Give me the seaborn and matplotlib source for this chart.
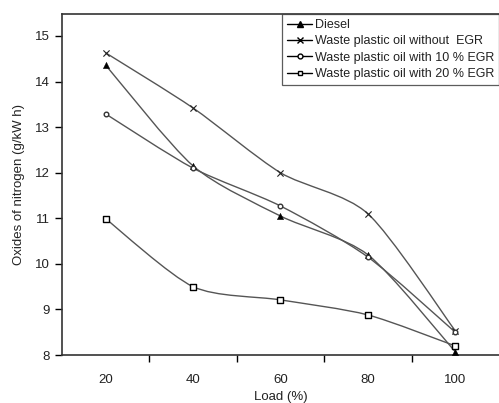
import numpy as np
import pandas as pd
import seaborn as sns
import matplotlib
matplotlib.use("Agg")
import matplotlib.pyplot as plt
from matplotlib.path import Path
from matplotlib.patches import PathPatch
from matplotlib.lines import Line2D

load = [20, 40, 60, 80, 100]
diesel = [14.36, 12.15, 11.05, 10.2, 8.07]
wpo_no_egr = [14.63, 13.42, 12.0, 11.1, 8.53]
wpo_10_egr = [13.29, 12.1, 11.27, 10.15, 8.5]
wpo_20_egr = [10.99, 9.5, 9.21, 8.88, 8.2]

names = ["Diesel", "Waste plastic oil without  EGR",
         "Waste plastic oil with 10 % EGR", "Waste plastic oil with 20 % EGR"]
series = [diesel, wpo_no_egr, wpo_10_egr, wpo_20_egr]
markers = ["^", "x", "o", "s"]

df = pd.DataFrame({
    "Load": load * 4,
    "NOx": sum(series, []),
    "Fuel": sum([[n] * len(load) for n in names], []),
})

sns.set_theme(style="white")
plt.rcParams["font.family"] = ["Liberation Sans", "DejaVu Sans"]

fig = plt.figure(figsize=(4.99, 4.03), dpi=100)
ax = fig.add_axes([0.1242, 0.119, 0.8758, 0.846])

line_col = "#555555"

def smooth_path(xs, ys, t=0.13):
    verts = [(xs[0], ys[0])]
    codes = [Path.MOVETO]
    n = len(xs)
    for i in range(n - 1):
        x0, y0 = xs[i], ys[i]
        x1, y1 = xs[i + 1], ys[i + 1]
        xp, yp = xs[max(i - 1, 0)], ys[max(i - 1, 0)]
        xn, yn = xs[min(i + 2, n - 1)], ys[min(i + 2, n - 1)]
        c1 = (x0 + (x1 - xp) * t, y0 + (y1 - yp) * t)
        c2 = (x1 - (xn - x0) * t, y1 - (yn - y0) * t)
        verts += [c1, c2, (x1, y1)]
        codes += [Path.CURVE4] * 3
    return Path(verts, codes)

for name, vals in zip(names, series):
    ax.add_patch(PathPatch(smooth_path(load, vals), facecolor="none",
                           edgecolor=line_col, lw=1.0, zorder=2))

for name, vals, m in zip(names, series, markers):
    sub = df[df["Fuel"] == name]
    if m == "s":
        kw = dict(facecolor="white", edgecolor="black", linewidth=1.0, s=18)
    elif m == "o":
        kw = dict(facecolor="white", edgecolor="#333333", linewidth=1.0, s=11)
    elif m == "x":
        kw = dict(color="#222222", linewidth=0.8, s=20)
    else:
        kw = dict(color="black", edgecolor="black", s=20)
    sns.scatterplot(data=sub, x="Load", y="NOx", marker=m, ax=ax, zorder=3,
                    legend=False, **kw)

handles = []
for m in markers:
    if m in ("o", "s"):
        h = Line2D([], [], color="black", lw=1.0, marker=m, markersize=3.5,
                   markerfacecolor="white", markeredgecolor="black")
    else:
        h = Line2D([], [], color="black", lw=1.0, marker=m, markersize=4,
                   markerfacecolor="black", markeredgecolor="black")
    handles.append(h)
leg = ax.legend(handles, names, loc="upper right", bbox_to_anchor=(1.0, 1.0),
                fontsize=9, frameon=True, fancybox=False, handlelength=2.0,
                handletextpad=0.2, borderpad=0.4, labelspacing=0.35,
                borderaxespad=0)
leg.get_frame().set_edgecolor("#333333")
leg.get_frame().set_linewidth(0.9)
for t in leg.get_texts():
    t.set_color("#222222")

ax.set_xlim(10, 110)
ax.set_ylim(8, 15.48)
ax.set_xticks([30, 50, 70, 90])
ax.set_xticklabels([])
ax.set_xticks(load, minor=True)
ax.set_xticklabels([str(v) for v in load], minor=True)
ax.tick_params(axis="x", which="minor", length=0, labelsize=9.5, pad=14)
ax.tick_params(axis="x", which="major", length=5, width=1, direction="out",
               color="black", bottom=True)
ax.set_yticks([8, 9, 10, 11, 12, 13, 14, 15])
ax.tick_params(axis="y", length=5, width=1, direction="out", color="black",
               left=True, labelsize=9.5, pad=4)
for lab in ax.get_xticklabels(minor=True) + ax.get_yticklabels():
    lab.set_color("#222222")

for s in ["left", "bottom", "top"]:
    ax.spines[s].set_color("#333333")
    ax.spines[s].set_linewidth(1.2)
ax.spines["right"].set_visible(False)

ax.set_xlabel("Load (%)", fontsize=9.5, labelpad=3, color="#222222")
ax.set_ylabel("Oxides of nitrogen (g/kW h)", fontsize=9.5, labelpad=7, color="#222222")

fig.savefig("out.png", dpi=100)
